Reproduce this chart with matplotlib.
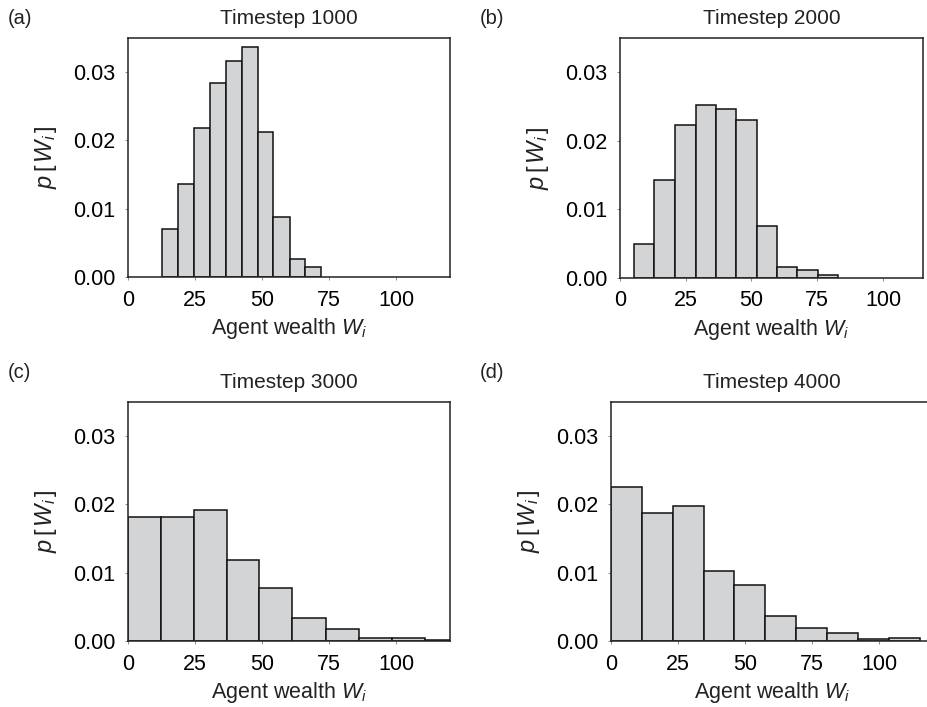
import numpy as np
import matplotlib
matplotlib.use("Agg")
import matplotlib.pyplot as plt

plt.rcParams['font.family'] = ['Liberation Sans', 'DejaVu Sans']
plt.rcParams['mathtext.fontset'] = 'custom'
plt.rcParams['mathtext.rm'] = 'Liberation Sans'
plt.rcParams['mathtext.it'] = 'Liberation Sans:italic'

# histogram data (bin edges and density heights)
edges_a = [12.8, 18.8, 24.7, 30.6, 36.6, 42.4, 48.3, 54.2, 60.2, 66.0, 72.0]
dens_a = [0.0070, 0.0136, 0.0218, 0.0284, 0.0317, 0.0337, 0.0212, 0.0088, 0.0026, 0.0015]

edges_b = [5.6, 13.2, 21.0, 28.8, 36.5, 44.2, 52.0, 59.7, 67.4, 75.2, 82.9]
dens_b = [0.0049, 0.0142, 0.0223, 0.0252, 0.0247, 0.0230, 0.0075, 0.0015, 0.0011, 0.0004]

edges_c = [0, 12.3, 24.5, 36.8, 49.0, 61.3, 73.7, 86.1, 98.3, 110.6, 122.9]
dens_c = [0.0182, 0.0181, 0.0192, 0.0118, 0.0077, 0.0034, 0.0017, 0.0004, 0.0005, 0.00015]

edges_d = [0, 11.5, 23.1, 34.6, 46.1, 57.6, 69.2, 80.7, 92.2, 103.8, 115.3]
dens_d = [0.0225, 0.0187, 0.0198, 0.0103, 0.0082, 0.0037, 0.0019, 0.0011, 0.0003, 0.0004]

timesteps = [1000, 2000, 3000, 4000]
letters = ['(a)', '(b)', '(c)', '(d)']
xticks = [0, 25, 50, 75, 100]
yticks = [0.00, 0.01, 0.02, 0.03]

W, H = 927, 707
fig = plt.figure(figsize=(W / 100, H / 100), dpi=100)

# axes boxes in pixels: left, right, top, bottom
boxes = [(128, 450, 38, 277), (619.7, 923, 38, 277.7),
         (128, 450, 401.7, 641), (610.7, 932.7, 401.7, 641)]
xmax = [120, 115.2, 120, 120]
letter_pos = [(8, 18), (480, 18), (8, 373), (480, 373)]
all_edges = [edges_a, edges_b, edges_c, edges_d]
all_dens = [dens_a, dens_b, dens_c, dens_d]

for k in range(4):
    l, r, t, b = boxes[k]
    ax = fig.add_axes([l / W, 1 - b / H, (r - l) / W, (b - t) / H])
    e = np.array(all_edges[k])
    ax.bar(e[:-1], all_dens[k], width=np.diff(e), align='edge',
           color='#d3d4d6', edgecolor='#111111', linewidth=1.1)
    ax.set_xlim(0, xmax[k])
    ax.set_ylim(0, 0.035)
    ax.set_xticks(xticks)
    ax.set_yticks(yticks)
    ax.set_yticklabels(['%.2f' % v for v in yticks])
    ax.tick_params(labelsize=15.5, length=2, width=0.6, color='#777777', pad=7)
    for s in ax.spines.values():
        s.set_linewidth(1.1)
        s.set_color('#222222')
    ax.set_title('Timestep %d' % timesteps[k], fontsize=15, pad=10, color='#222222')
    ax.set_xlabel('Agent wealth $W_i$', fontsize=15.5, labelpad=4, color='#222222')
    ax.set_ylabel(r'$p\,[\,W_i\,]$', fontsize=17, labelpad=10, color='#222222')
    fig.text(letter_pos[k][0] / W, 1 - letter_pos[k][1] / H, letters[k],
             fontsize=14.5, va='center', ha='left', color='#222222')

fig.savefig('out.png', dpi=100)
